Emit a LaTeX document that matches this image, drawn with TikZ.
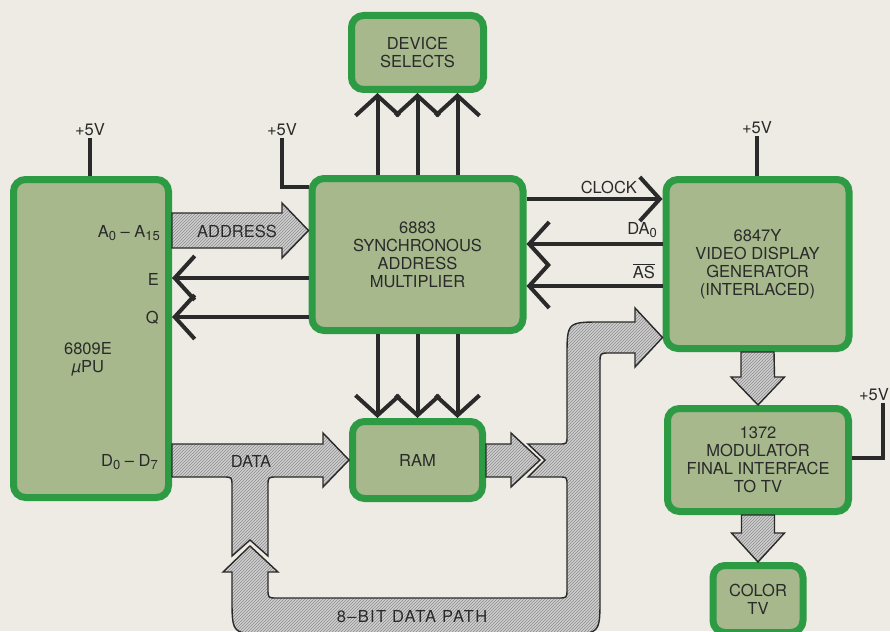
\documentclass[tikz,border=0pt]{standalone}
\usepackage{fontspec}
\setmainfont{TeX Gyre Heros}
\usetikzlibrary{calc,arrows.meta,patterns}
\definecolor{paper}{HTML}{EEEBE4}
\definecolor{boxfill}{HTML}{A6B88C}
\definecolor{boxedge}{HTML}{2D9A44}
\definecolor{ink}{HTML}{2A2A2A}
\definecolor{busfill}{HTML}{CFCFCF}
\newcommand\lowidx[1]{\raisebox{-0.45ex}{\fontsize{13}{13}\selectfont #1}}

\tikzset{
    chip/.style={draw=boxedge, fill=boxfill, line width=7pt, rounded corners=12pt, align=center, text=ink, inner sep=0pt},
    sig/.style={draw=ink, line width=4pt, -{Straight Barb[length=20pt,width=44pt]}},
    rail/.style={draw=ink, line width=4pt},
    bus/.style={draw=ink, line width=1.4pt, preaction={fill=busfill}, pattern=north east lines, pattern color=black!45},
    lbl/.style={text=ink, inner sep=2pt},
}

\begin{document}
\begin{tikzpicture}[x=1pt, y=-1pt, font=\fontsize{16.5}{18}\selectfont]
    % Page
    \useasboundingbox (0,0) rectangle (890,631);
    \clip (0,0) rectangle (890,631);
    \fill[paper] (0,0) rectangle (890,631);

    % Chips
    \node[chip, minimum width=155pt, minimum height=318pt] (cpu) at (91,338.5) {};
    \node[lbl, align=center] (cpuname) at (88,359) {6809E\\{\itshape µ}PU};
    \node[chip, minimum width=211pt, minimum height=152pt] (sam) at (417.5,254.5) {6883\\SYNCHRONOUS\\ADDRESS\\MULTIPLIER};
    \node[chip, minimum width=132pt, minimum height=74pt] (dev) at (417.5,52.5) {DEVICE\\SELECTS};
    \node[chip, minimum width=130pt, minimum height=77pt] (ram) at (417.5,460) {RAM};
    \node[chip, minimum width=183pt, minimum height=169pt] (vdg) at (757.5,264) {6847Y\\VIDEO DISPLAY\\GENERATOR\\(INTERLACED)};
    \node[chip, minimum width=181pt, minimum height=103pt] (mod) at (758,460) {1372\\MODULATOR\\FINAL INTERFACE\\TO TV};
    \node[chip, minimum width=90pt, minimum height=67pt] (tv) at (758,599) {COLOR\\TV};

    % Supply rails
    \node[lbl] (vcpu) at (90,130) {+5V};
    \draw[rail] (vcpu.south) -- (vcpu.south |- cpu.north);
    \node[lbl] (vsam) at (282,130) {+5V};
    \draw[rail] (vsam.south) -- (vsam.south |- 0,187) -- (sam.west |- 0,187);
    \node[lbl] (vvdg) at (757,128) {+5V};
    \draw[rail] (vvdg.south) -- (vvdg.south |- vdg.north);
    \node[lbl, anchor=east] (vmod) at (891,395) {+5V};
    \draw[rail] (vmod.south -| 883,0) -- (883,458) -- (mod.east |- 0,458);

    % Control lines
    \foreach \dx in {-40,0,40} {
        \draw[sig] ($(sam.north)+(\dx,0)$) -- ($(dev.south)+(\dx,0)$);
        \draw[sig] ($(sam.south)+(\dx,0)$) -- ($(ram.north)+(\dx,0)$);
    }
    \draw[sig] (sam.east |- 0,199) -- (vdg.west |- 0,199);
    \foreach \y in {244,286} \draw[sig] (vdg.west |- 0,\y) -- (sam.east |- 0,\y);
    \foreach \y in {278,317} \draw[sig] (sam.west |- 0,\y) -- (cpu.east |- 0,\y);

    \node[lbl, anchor=base east] (clk) at (639,193) {CLOCK};
    \node[lbl, anchor=base east] (da) at (659,234) {DA\lowidx{0}};
    \node[lbl, anchor=base east] (as) at (657,278) {$\overline{\mbox{AS}}$};
    \node[lbl, anchor=base east] (pa) at (162,237) {A\lowidx{0} -- A\lowidx{15}};
    \node[lbl, anchor=base east] (pe) at (161,285) {E};
    \node[lbl, anchor=base east] (pq) at (161,323) {Q};
    \node[lbl, anchor=base east] (pd) at (160,466) {D\lowidx{0} -- D\lowidx{7}};

    % Address bus
    \draw[bus] (cpu.east |- 0,213) -- (282,213) -- (282,203) -- (sam.west |- 0,230.5)
        -- (282,258) -- (282,248) -- (cpu.east |- 0,248) -- cycle;
    \node[lbl] (addr) at (237,231) {ADDRESS};

    % Data bus and its branch
    \draw[bus] (cpu.east |- 0,444) -- (323,444) -- (323,433) -- (ram.west) -- (323,487) -- (323,477)
        -- (277,477) .. controls (268,477) .. (268,486) -- (268,556) -- (250,540) -- (232,556)
        -- (232,486) .. controls (232,477) .. (223,477) -- (cpu.east |- 0,477) -- cycle;
    \node[lbl] (data) at (251,461) {DATA};

    % RAM out
    \draw[bus] (ram.east |- 0,444) -- (511,444) -- (511,433) -- (540,460) -- (511,487) -- (511,477)
        -- (ram.east |- 0,477) -- cycle;

    % 8-bit loop
    \draw[bus] (250,546) -- (278,572) -- (268,572) -- (268,589) .. controls (268,598) .. (277,598)
        -- (558,598) .. controls (567,598) .. (567,589) -- (567,485) .. controls (567,477) .. (559,477)
        -- (528,477) -- (545,460) -- (528,444) -- (559,444) .. controls (567,444) .. (567,436)
        -- (567,357) .. controls (567,322) .. (602,322) -- (635,322) -- (635,308) -- (vdg.west |- 0,337.5)
        -- (635,367) -- (635,353) -- (610,353) .. controls (600,353) .. (600,363)
        -- (600,598) .. controls (600,634) .. (564,634) -- (268,634) .. controls (232,634) .. (232,598)
        -- (232,572) -- (223,572) -- cycle;
    \node[lbl] (path) at (412,617) {\addfontfeature{LetterSpace=8}8--BIT DATA PATH};

    % Video out
    \draw[bus] ([xshift=-16.5pt]vdg.south) -- ++(0,25) -- ++(-10,0) -- (mod.north) -- ++(26.5,-28)
        -- ++(-10,0) -- ([xshift=16.5pt]vdg.south) -- cycle;
    \draw[bus] ([xshift=-16.5pt]mod.south) -- ++(0,18) -- ++(-10,0) -- (tv.north) -- ++(26.5,-29)
        -- ++(-10,0) -- ([xshift=16.5pt]mod.south) -- cycle;
\end{tikzpicture}
\end{document}
